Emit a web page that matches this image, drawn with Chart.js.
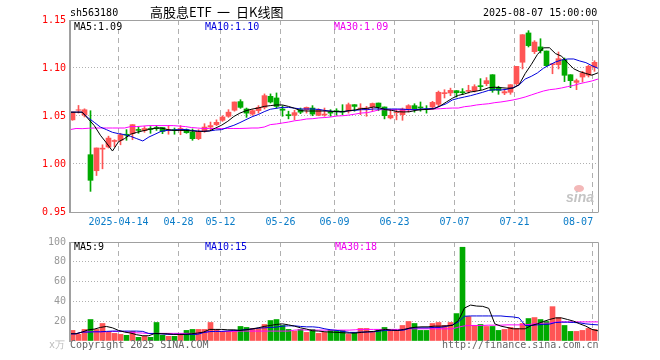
<!DOCTYPE html>
<html><head><meta charset="utf-8">
<script src="https://cdn.jsdelivr.net/npm/chart.js@4"></script>
<style>
html,body{margin:0;padding:0;background:#fff;width:660px;height:360px;overflow:hidden}
canvas{position:absolute;left:0;display:block}
.t{position:absolute;font:10px/12px "DejaVu Sans Mono",monospace;white-space:pre;color:#000}
.h{position:absolute;top:4px;font:13px/16px 'Noto Sans CJK SC',sans-serif;white-space:pre;color:#000}
</style></head><body>
<canvas id="kline" width="660" height="232" style="top:0"></canvas>
<canvas id="vols" width="660" height="128" style="top:232px"></canvas>
<div class="t" style="left:70px;top:7px">sh563180</div>
<div class="h" style="left:150px">高股息ETF</div>
<div class="h" style="left:217px">一</div>
<div class="h" style="left:236px">日K线图</div>
<div class="t" style="left:483px;top:7px">2025-08-07 15:00:00</div>
<div class="t" style="left:74px;top:21px">MA5:1.09</div>
<div class="t" style="left:205px;top:21px;color:#0000dd">MA10:1.10</div>
<div class="t" style="left:334px;top:21px;color:#ee00ee">MA30:1.09</div>
<div class="t" style="left:74px;top:241px">MA5:9</div>
<div class="t" style="left:205px;top:241px;color:#0000dd">MA10:15</div>
<div class="t" style="left:335px;top:241px;color:#ee00ee">MA30:18</div>
<div class="t" style="left:49px;top:339px;color:#bbb;font-size:10px">x万</div>
<div class="t" style="left:70px;top:339px;color:#666">Copyright 2025 SINA.COM</div>
<div class="t" style="left:442px;top:339px;color:#666">http://finance.sina.com.cn</div>
<div style="position:absolute;left:574px;top:185px;width:10px;height:7px;border-radius:50%;background:#f3b8b8"></div>
<div class="t" style="left:566px;top:190px;color:#c4c4c4;font:italic bold 14px/15px 'Liberation Sans',sans-serif">sina</div>
<script>
const dates = ["04-01","04-02","04-03","04-07","04-08","04-09","04-10","04-11","04-14","04-15",
"04-16","04-17","04-18","04-21","04-22","04-23","04-24","04-25","04-28","04-29",
"04-30","05-06","05-07","05-08","05-09","05-12","05-13","05-14","05-15","05-16",
"05-19","05-20","05-21","05-22","05-23","05-26","05-27","05-28","05-29","05-30",
"06-03","06-04","06-05","06-06","06-09","06-10","06-11","06-12","06-13","06-16",
"06-17","06-18","06-19","06-20","06-23","06-24","06-25","06-26","06-27","06-30",
"07-01","07-02","07-03","07-04","07-07","07-08","07-09","07-10","07-11","07-14",
"07-15","07-16","07-17","07-18","07-21","07-22","07-23","07-24","07-25","07-28",
"07-29","07-30","07-31","08-01","08-04","08-05","08-06","08-07"];
const opens = [1.046,1.056,1.051,1.0097,0.993,1.0155,1.0177,1.0235,1.0247,1.031,
1.0316,1.036,1.0347,1.037,1.038,1.038,1.0347,1.0358,1.035,1.0358,
1.0333,1.0264,1.034,1.0385,1.041,1.0455,1.0497,1.056,1.065,1.0573,
1.052,1.0556,1.059,1.0705,1.0688,1.0573,1.0514,1.0507,1.0566,1.0566,
1.0583,1.0507,1.051,1.0542,1.0555,1.055,1.055,1.0618,1.0573,1.0566,
1.0594,1.0635,1.0594,1.048,1.0535,1.0514,1.0566,1.0608,1.0594,1.0573,
1.0594,1.0622,1.0733,1.074,1.0764,1.0753,1.0757,1.076,1.0816,1.0837,
1.093,1.0799,1.074,1.0747,1.0837,1.106,1.1365,1.117,1.122,1.1177,
1.1035,1.1035,1.1087,1.093,1.085,1.0906,1.0924,1.1007];
const closes = [1.054,1.0565,1.0565,0.983,1.0167,1.0165,1.027,1.0245,1.0305,1.03,
1.041,1.035,1.037,1.036,1.037,1.034,1.0358,1.035,1.037,1.0326,
1.0264,1.0333,1.0385,1.04,1.0434,1.049,1.054,1.0646,1.059,1.053,
1.0556,1.059,1.0712,1.0646,1.06,1.056,1.0503,1.0535,1.054,1.059,
1.052,1.0566,1.052,1.053,1.0545,1.054,1.0618,1.06,1.0583,1.0583,
1.063,1.0594,1.0503,1.0507,1.054,1.0573,1.0608,1.0566,1.0583,1.0566,
1.0642,1.0747,1.0743,1.0767,1.0743,1.0743,1.0767,1.0806,1.0806,1.0868,
1.0767,1.0767,1.0753,1.0826,1.1017,1.1347,1.1233,1.127,1.118,1.1024,
1.1045,1.1097,1.0924,1.0868,1.0868,1.0948,1.1017,1.1059];
const highs = [1.054,1.061,1.0575,1.0555,1.0167,1.02,1.029,1.0253,1.032,1.0358,
1.041,1.039,1.039,1.039,1.04,1.038,1.04,1.0375,1.04,1.0365,
1.0365,1.0358,1.042,1.0437,1.046,1.0503,1.0566,1.0646,1.067,1.0583,
1.0566,1.0608,1.073,1.073,1.074,1.0608,1.055,1.056,1.0583,1.0594,
1.0608,1.0576,1.0583,1.0566,1.0576,1.0618,1.0635,1.0618,1.0628,1.06,
1.0635,1.0635,1.0594,1.0566,1.0566,1.0583,1.0618,1.0628,1.0646,1.0608,
1.0653,1.076,1.0774,1.079,1.0764,1.0785,1.082,1.0826,1.0889,1.09,
1.093,1.081,1.078,1.0826,1.1017,1.1347,1.1389,1.1285,1.1305,1.1177,
1.1045,1.1167,1.1104,1.093,1.0885,1.0965,1.1028,1.1076];
const lows = [1.0455,1.053,1.049,0.9715,0.988,0.995,1.0167,1.018,1.02,1.0247,
1.0253,1.032,1.033,1.032,1.035,1.0316,1.031,1.031,1.0305,1.032,
1.0247,1.0253,1.033,1.035,1.04,1.0444,1.0486,1.055,1.058,1.0486,
1.0507,1.053,1.0573,1.0635,1.058,1.0497,1.047,1.046,1.0524,1.053,
1.0503,1.0503,1.0497,1.0497,1.0507,1.0514,1.053,1.055,1.0514,1.0497,
1.055,1.0555,1.047,1.047,1.046,1.0455,1.054,1.054,1.055,1.053,
1.0573,1.0608,1.0688,1.0712,1.0698,1.0722,1.074,1.075,1.0774,1.0816,
1.0747,1.0726,1.0722,1.0726,1.082,1.099,1.1219,1.115,1.1156,1.1017,
1.094,1.099,1.0858,1.0795,1.0774,1.0854,1.0906,1.0965];
const ma5 = [1.054,1.054,1.054,1.047,1.040,1.030,1.022,1.0135,1.0232,1.0265,
1.031,1.033,1.0345,1.036,1.0372,1.0375,1.036,1.035,1.035,1.035,
1.0345,1.034,1.034,1.0345,1.0375,1.0405,1.0445,1.0495,1.053,1.0555,
1.0572,1.0583,1.060,1.0608,1.0615,1.0615,1.060,1.058,1.0556,1.0552,
1.0552,1.0552,1.0552,1.0549,1.0545,1.0545,1.0556,1.0563,1.0576,1.058,
1.0594,1.0585,1.0566,1.0559,1.0545,1.0542,1.0545,1.0559,1.0566,1.0569,
1.0575,1.0605,1.0645,1.0685,1.0715,1.073,1.075,1.076,1.0772,1.0795,
1.080,1.0795,1.079,1.079,1.0826,1.0942,1.1035,1.1139,1.121,1.1211,
1.115,1.1123,1.1054,1.0992,1.0962,1.0943,1.0925,1.095];
const ma10 = [1.054,1.054,1.054,1.048,1.0434,1.0385,1.0358,1.033,1.0316,1.0306,
1.0288,1.0264,1.024,1.0281,1.031,1.034,1.035,1.0354,1.0358,1.036,
1.035,1.0344,1.034,1.0344,1.0354,1.0358,1.0382,1.0403,1.0431,1.0462,
1.0492,1.0515,1.0545,1.057,1.058,1.059,1.059,1.0582,1.0573,1.0573,
1.0573,1.0568,1.0558,1.055,1.0545,1.0545,1.0555,1.0559,1.0566,1.0566,
1.0573,1.0573,1.0573,1.0573,1.0573,1.057,1.0566,1.0566,1.0573,1.0576,
1.058,1.0604,1.0628,1.0667,1.0684,1.0698,1.0712,1.0729,1.0747,1.0767,
1.0774,1.0771,1.0778,1.0795,1.0823,1.0885,1.0913,1.0948,1.0997,1.1031,
1.1063,1.1083,1.1094,1.1094,1.1073,1.1056,1.1024,1.0997];
const ma30 = [1.0358,1.037,1.0368,1.0372,1.0375,1.0375,1.0375,1.0375,1.0375,1.0375,
1.039,1.039,1.0395,1.04,1.04,1.04,1.04,1.04,1.0395,1.039,
1.038,1.0375,1.037,1.037,1.037,1.037,1.037,1.037,1.037,1.0372,
1.0375,1.0375,1.0385,1.041,1.0417,1.0427,1.0437,1.045,1.0458,1.0469,
1.0472,1.048,1.0484,1.049,1.05,1.0503,1.051,1.052,1.0531,1.0535,
1.0549,1.0566,1.0566,1.0566,1.0566,1.0562,1.0566,1.0566,1.0569,1.0569,
1.0573,1.0576,1.058,1.0583,1.0583,1.0597,1.0604,1.0615,1.0622,1.0628,
1.0639,1.0646,1.0656,1.0667,1.0681,1.0698,1.0719,1.074,1.076,1.0774,
1.0781,1.0792,1.0806,1.0819,1.0837,1.0851,1.0865,1.0885];
const volumes = [10.7,6.7,11.7,21.7,11.7,17.7,9,7.7,6.7,5.7,
9.7,3.7,4.7,3.7,18.7,5.7,4.7,4.7,6.7,10.7,
11.7,11.7,11.7,18.7,11.7,9.7,9.7,10.7,14.7,13.7,
12.7,12.7,16.7,20.7,21.7,15.7,11.7,10,11.7,8.7,
11.7,7.7,8.7,10.7,10.7,10.7,6.7,8.7,12.7,12.7,
9.7,11.7,13.7,10.7,10.7,15.7,19.7,17.7,10.7,10.7,
17.7,18.7,15.7,18.7,27.7,94.7,24.7,15.7,16.7,14.7,
14.7,10.7,11.7,13.7,12.7,17.7,22.7,23.7,21.7,19.7,
34.7,23.7,15.7,9.7,9.7,10.7,12.7,11.7];
const volumeUp = [1,1,1,0,1,1,1,1,1,0,
1,0,1,0,0,0,1,0,1,0,
0,1,1,1,1,1,1,1,0,0,
1,1,1,0,0,0,0,1,0,1,
0,1,1,0,0,0,1,0,1,1,
1,0,0,1,1,1,1,0,0,0,
1,1,1,1,0,0,1,1,0,1,
0,0,1,1,1,1,0,1,0,0,
1,1,0,0,1,1,1,1];
const volMa5 = [7.3,7.3,9,11.3,12,13.7,14.7,13.3,10.7,9,
8,6.3,5.3,5.3,7.7,7.3,7.3,6.7,6.7,6.7,
7.3,8,9,11.7,11.7,11.7,11.3,11.3,10.7,11.3,
12.3,13.3,14.7,15.7,16.7,17.3,16.3,15,13.3,12,
10.3,10,9.3,9,8.7,8.3,8,8,8.7,9.3,
9.7,10.7,11.7,11,10.7,11.7,13,14,14.3,14.3,
15,15,15.3,15.7,20.7,33.3,36.3,35.3,35,33,
17.3,15,13.7,12.3,12.3,12.3,15.7,17.3,19.7,21.7,
23.3,23.3,21.7,20,17.3,15,11.7,10.3];
const volMa10 = [7.3,7.3,9,9,9.3,9.3,9.7,10,10,10,
10,10,9.7,7.5,7.5,7.3,6.7,6.7,6.7,6.7,
6.7,6.7,8.5,9.5,9.7,9.7,10.2,10.7,10.7,11.7,
12,13,13.3,13.7,14,15,15.3,15.3,14.7,14.3,
14.3,13.7,12.3,11.3,10.7,9.7,8.7,8.7,9,9,
9.3,10,10.7,10.7,10.7,11,13,13.3,13.3,13.3,
13.7,13.7,14.7,16.3,19.3,25,25.3,25.3,25.3,25.3,
25.3,25.3,24.7,24.3,23.3,15.7,15.7,16.3,16.7,17,
18.7,19,19,18.7,18.3,17.3,16.7,16.3];
const volMa30 = [7.3,7.3,9,9.3,9.3,9.3,9.3,9.7,9.7,9.5,
8.5,8.3,8,7.7,7.7,7.7,7.7,7.7,7.7,7.7,
7.7,7.7,8.5,9.5,9.7,9.7,9.7,9.7,10,10,
10,10,10,10,10,10,10,11,11.3,11,
11,11,11,11,11,11,11,11.3,11.7,11.7,
11.7,11.7,11.7,11.7,11.7,11.7,12.3,12.3,12.3,12.3,
12.3,12.3,12.3,12.3,14,15.3,15.7,15.7,15.7,16,
16,16,16.3,16.3,16.3,16.3,17,17.7,18,18,
19,19.3,19.3,19.3,19.3,19.3,19.3,19.3];
const gridIndex = [8,18,25,35,44,54,64,74,87];
const tickPos = [8,18,25,35,44,54,64,74,84.6];
const tickLabels = ["2025-04-14","04-28","05-12","05-26","06-09","06-23","07-07","07-21","08-07"];
const priceTicks = [0.95,1.00,1.05,1.10,1.15];
const volTicks = [0,20,40,60,80,100];

const RED = "#ff5555", GREEN = "#00aa00", FRAME = "#a0a0a0", GRID = "#b0b0b0";
const MONO = "'DejaVu Sans Mono', monospace";
const N = dates.length, idx = dates.map((_, i) => i);

const makeFrame = (bottomLine) => ({ id: "frame", afterDatasetsDraw(c) {
  const a = c.chartArea, x = c.ctx;
  x.save(); x.strokeStyle = FRAME; x.lineWidth = 1;
  x.beginPath();
  if (bottomLine) { x.moveTo(a.left, a.bottom + .5); x.lineTo(a.right + .5, a.bottom + .5); }
  x.moveTo(a.right + .5, a.bottom); x.lineTo(a.right + .5, a.top + .5); x.lineTo(a.left, a.top + .5);
  x.stroke();
  x.lineWidth = 2; x.beginPath(); x.moveTo(a.left, a.top); x.lineTo(a.left, a.bottom + 1); x.stroke();
  x.restore();
}});
const maLine = (data, color) => ({ type: "line", data, xAxisID: "xLine", yAxisID: "y", borderColor: color,
  borderWidth: 1, pointRadius: 0, tension: 0, fill: false, order: 0, clip: true });
const xScales = () => ({
  xBar: { type: "linear", display: false, offset: false, min: -5/12, max: N - 5/12, grid: { offset: false } },
  xLine: { type: "category", display: false, labels: dates, offset: false },
  xGrid: { type: "linear", position: "bottom", min: -1/12, max: N - 1/12,
    afterBuildTicks: s => { s.ticks = gridIndex.map(v => ({ value: v })); },
    afterFit: s => { s.height = 0; },
    grid: { color: GRID, drawTicks: false, lineWidth: 1, drawOnChartArea: true },
    border: { display: false, dash: [5, 4] }, ticks: { display: false } }
});
const yGrid = { color: GRID, drawTicks: false, lineWidth: 1 };

const barPts = (a, b) => idx.map(i => ({ x: i, y: [a[i], b[i]] }));
const candleColor = idx.map(i => closes[i] >= opens[i] ? RED : GREEN);

new Chart(document.getElementById("kline"), {
  data: { datasets: [
    { type: "bar", data: barPts(lows, highs), xAxisID: "xBar", yAxisID: "y", backgroundColor: candleColor, barThickness: 1, grouped: false, order: 2 },
    { type: "bar", data: barPts(opens, closes), xAxisID: "xBar", yAxisID: "y", backgroundColor: candleColor, barThickness: 5, grouped: false, order: 1 },
    maLine(ma5, "#000000"), maLine(ma10, "#0000dd"), maLine(ma30, "#ff00ff")
  ]},
  options: { responsive: false, animation: false, devicePixelRatio: 1, events: [],
    layout: { padding: { left: 0, right: 62, top: 20, bottom: 0 } },
    plugins: { legend: { display: false }, tooltip: { enabled: false } },
    scales: Object.assign(xScales(), {
      xLabel: { type: "linear", position: "bottom", min: -1/12, max: N - 1/12,
        afterBuildTicks: s => { s.ticks = tickPos.map(v => ({ value: v })); },
        afterFit: s => { s.height = 20; },
        grid: { display: false, drawTicks: false }, border: { display: false },
        ticks: { autoSkip: false, maxRotation: 0, minRotation: 0, padding: 4, color: "#0a7cc8",
          font: { family: MONO, size: 10 }, callback: (v, i) => tickLabels[i] } },
      y: { type: "linear", min: 0.95, max: 1.15,
        afterBuildTicks: s => { s.ticks = priceTicks.map(v => ({ value: v })); },
        afterFit: s => { s.width = 70; },
        grid: yGrid, border: { display: false, dash: [1, 2] },
        ticks: { color: "#ff0000", padding: 4, font: { family: MONO, size: 10 }, callback: v => v.toFixed(2) } }
    })
  },
  plugins: [makeFrame(true)]
});

new Chart(document.getElementById("vols"), {
  data: { datasets: [
    { type: "bar", data: idx.map(i => ({ x: i, y: volumes[i] })), xAxisID: "xBar", yAxisID: "y",
      backgroundColor: volumeUp.map(u => u ? RED : GREEN), barThickness: 5, grouped: false, order: 1 },
    maLine(volMa5, "#000000"), maLine(volMa10, "#0000dd"), maLine(volMa30, "#ff00ff")
  ]},
  options: { responsive: false, animation: false, devicePixelRatio: 1, events: [],
    layout: { padding: { left: 0, right: 62, top: 8, bottom: 19 } },
    plugins: { legend: { display: false }, tooltip: { enabled: false } },
    scales: Object.assign(xScales(), {
      y: { type: "linear", min: 0, max: 100,
        afterBuildTicks: s => { s.ticks = volTicks.map(v => ({ value: v })); },
        afterFit: s => { s.width = 70; },
        grid: { color: c => c.tick && c.tick.value === 0 ? "rgba(0,0,0,0)" : GRID, drawTicks: false, lineWidth: 1 },
        border: { display: false, dash: [1, 2] },
        ticks: { color: "#999999", padding: 4, font: { family: MONO, size: 10 }, callback: v => v === 0 ? "" : String(v) } }
    })
  },
  plugins: [makeFrame(false)]
});
</script>
</body></html>
